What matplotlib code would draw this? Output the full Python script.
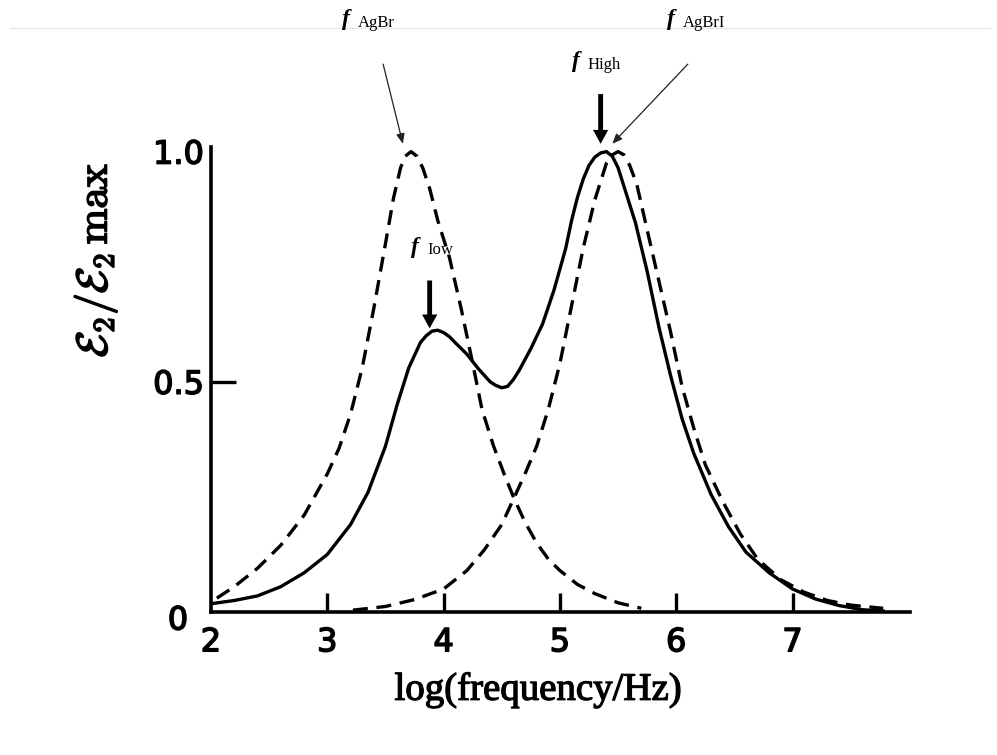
import matplotlib
matplotlib.use("Agg")
from matplotlib import pyplot as plt
from matplotlib.lines import Line2D
import matplotlib.patheffects as pe

# measured blend (solid)
blend_x = [2.0, 2.2, 2.4, 2.6, 2.8, 3.0, 3.2, 3.35, 3.5, 3.6, 3.7, 3.8, 3.85, 3.9, 3.95, 4.0, 4.05,
           4.1, 4.2, 4.3, 4.4, 4.45, 4.5, 4.55, 4.6, 4.65, 4.75, 4.85, 4.95, 5.05, 5.1, 5.15, 5.2,
           5.25, 5.3, 5.35, 5.40, 5.45, 5.5, 5.55, 5.65, 5.75, 5.85, 5.95, 6.05, 6.15, 6.3, 6.45,
           6.6, 6.8, 7.0, 7.2, 7.4, 7.6, 7.78]
blend_y = [0.018, 0.025, 0.035, 0.055, 0.085, 0.125, 0.19, 0.26, 0.36, 0.45, 0.53, 0.585, 0.60, 0.61,
           0.612, 0.607, 0.598, 0.585, 0.56, 0.528, 0.50, 0.492, 0.487, 0.49, 0.505, 0.525, 0.572,
           0.625, 0.70, 0.79, 0.85, 0.90, 0.94, 0.97, 0.988, 0.997, 1.0, 0.99, 0.965, 0.925, 0.845,
           0.74, 0.62, 0.515, 0.42, 0.345, 0.255, 0.185, 0.13, 0.085, 0.05, 0.028, 0.014, 0.005,
           0.002]

# AgBr (dashed, left peak)
agbr_x = [2.05, 2.2, 2.4, 2.6, 2.8, 3.0, 3.1, 3.2, 3.3, 3.4, 3.5, 3.57, 3.63, 3.67, 3.72, 3.77, 3.82,
          3.88, 3.95, 4.05, 4.15, 4.25, 4.33, 4.43, 4.52, 4.6, 4.7, 4.8, 4.9, 5.0, 5.15, 5.3, 5.5,
          5.7]
agbr_y = [0.03, 0.055, 0.095, 0.145, 0.21, 0.30, 0.355, 0.43, 0.53, 0.66, 0.80, 0.90, 0.965, 0.99,
          1.0, 0.99, 0.965, 0.92, 0.85, 0.77, 0.66, 0.54, 0.44, 0.36, 0.30, 0.25, 0.195, 0.15,
          0.115, 0.09, 0.06, 0.04, 0.02, 0.008]

# AgBrI (dashed, right peak)
agbri_x = [3.22, 3.5, 3.75, 4.0, 4.2, 4.35, 4.5, 4.6, 4.7, 4.8, 4.9, 5.0, 5.1, 5.2, 5.3, 5.4, 5.45,
           5.5, 5.55, 5.6, 5.66, 5.75, 5.85, 5.95, 6.05, 6.15, 6.25, 6.4, 6.55, 6.7, 6.9, 7.1, 7.3,
           7.5, 7.78]
agbri_y = [0.004, 0.012, 0.027, 0.05, 0.09, 0.135, 0.19, 0.245, 0.30, 0.36, 0.44, 0.54, 0.665, 0.79,
           0.895, 0.975, 0.993, 1.0, 0.993, 0.97, 0.93, 0.83, 0.72, 0.61, 0.49, 0.40, 0.32, 0.24,
           0.17, 0.115, 0.07, 0.043, 0.025, 0.015, 0.008]

x_ticks = [2, 3, 4, 5, 6, 7]
y_ticks = [0.5, 1.0]
y_tick_labels = ["0.5", "1.0"]

W, H = 997, 755
plt.rcParams['mathtext.fontset'] = 'cm'
fig = plt.figure(figsize=(W / 100, H / 100), dpi=100)
ax = fig.add_axes([211 / W, 1 - 612 / H, (910 - 211) / W, (612 - 147) / H])

lw = 2.4
ax.plot(blend_x, blend_y, color="black", lw=lw, solid_joinstyle="round")
ax.plot(agbr_x, agbr_y, color="black", lw=lw, dashes=(4.5, 2.6))
ax.plot(agbri_x, agbri_y, color="black", lw=lw, dashes=(4.5, 2.6))

ax.set_xlim(2, 8.01)
ax.set_ylim(0, 1.01)
for s in ["top", "right"]:
    ax.spines[s].set_visible(False)
for s in ["left", "bottom"]:
    ax.spines[s].set_linewidth(2.6)

heavy = [pe.withStroke(linewidth=1.1, foreground="black")]
tick_font = dict(family="DejaVu Sans", size=23)
ax.set_xticks(x_ticks)
ax.set_xticklabels([str(t) for t in x_ticks], fontdict=tick_font)
ax.set_yticks(y_ticks)
ax.set_yticklabels(y_tick_labels, fontdict=tick_font)
for lab in ax.get_xticklabels() + ax.get_yticklabels():
    lab.set_path_effects(heavy)
ax.tick_params(axis="x", direction="in", length=14, width=2.4, pad=11)
ax.tick_params(axis="y", direction="in", length=18, width=2.4, pad=5)
ax.yaxis.get_major_ticks()[1].tick1line.set_visible(False)
ax.xaxis.get_major_ticks()[0].tick1line.set_visible(False)
fig.text(178 / W, 1 - 621 / H, "0", ha="center", va="center", path_effects=heavy, **tick_font)

fig.text(538 / W, 1 - 690 / H, "log(frequency/Hz)", family="Liberation Serif",
         fontsize=28, ha="center", va="center",
         path_effects=[pe.withStroke(linewidth=0.9, foreground="black")])
fig.text(96 / W, 1 - 260 / H, r"$\mathcal{E}_2/\mathcal{E}_2\,\mathrm{max}$", rotation=90,
         ha="center", va="center", fontsize=31,
         path_effects=[pe.withStroke(linewidth=1.2, foreground="black")])

# faint rule near the top
fig.add_artist(Line2D([10 / W, 990 / W], [1 - 28 / H] * 2, color="#e6e6e6", lw=0.8))

# annotation labels: italic f plus small subscript
def f_label(px, py, sub):
    fig.text(px / W, 1 - py / H, "f", family="Liberation Serif", style="italic",
             weight="bold", fontsize=17, ha="left", va="center")
    fig.text((px + 16) / W, 1 - (py + 3) / H, sub, family="Liberation Serif",
             fontsize=12, ha="left", va="center")

f_label(342, 20, "AgBr")
f_label(667, 20, "AgBrI")
f_label(572, 62, "High")
f_label(411, 247, "Iow")

thin = dict(arrowstyle="-|>,head_length=0.6,head_width=0.25", color="#222222", lw=0.9,
            shrinkA=0, shrinkB=0)
ax.annotate("", xy=(3.65, 1.017), xytext=(3.48, 1.19), arrowprops=thin, annotation_clip=False)
ax.annotate("", xy=(5.45, 1.017), xytext=(6.10, 1.19), arrowprops=thin, annotation_clip=False)

thick = dict(arrowstyle="simple,head_length=1.0,head_width=1.1,tail_width=0.35", color="black",
             lw=0, shrinkA=0, shrinkB=0)
ax.annotate("", xy=(5.35, 1.017), xytext=(5.35, 1.125), arrowprops=thick, annotation_clip=False)
ax.annotate("", xy=(3.88, 0.616), xytext=(3.88, 0.72), arrowprops=thick, annotation_clip=False)

plt.savefig("out.png", dpi=100)
